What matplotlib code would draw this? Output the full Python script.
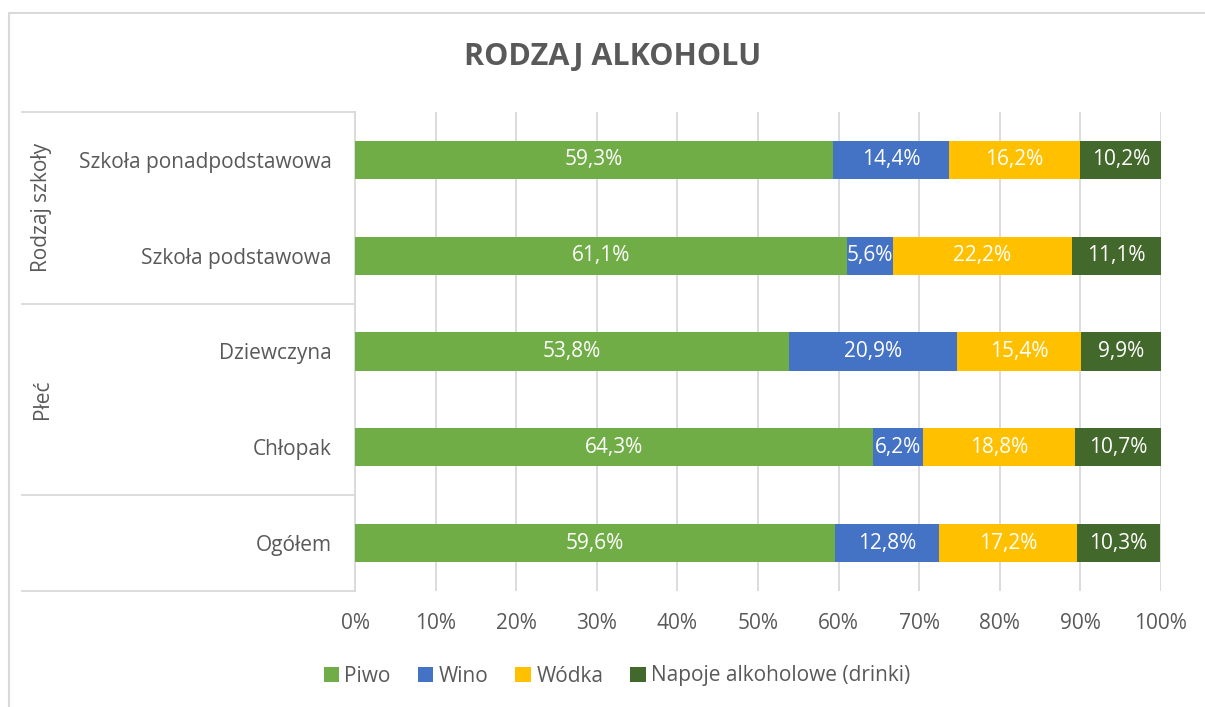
import matplotlib.pyplot as plt
import matplotlib.transforms as mtransforms
from matplotlib.patches import Rectangle
from matplotlib.lines import Line2D

plt.rcParams['font.family'] = ['Open Sans', 'DejaVu Sans']

# kategorie od dołu do góry
kategorie = ['Ogółem', 'Chłopak', 'Dziewczyna', 'Szkoła podstawowa', 'Szkoła ponadpodstawowa']
serie = ['Piwo', 'Wino', 'Wódka', 'Napoje alkoholowe (drinki)']
kolory = ['#70AD47', '#4472C4', '#FFC000', '#43682B']

piwo = [59.6, 64.3, 53.8, 61.1, 59.3]
wino = [12.8, 6.2, 20.9, 5.6, 14.4]
wodka = [17.2, 18.8, 15.4, 22.2, 16.2]
drinki = [10.3, 10.7, 9.9, 11.1, 10.2]

grupy = ['Płeć', 'Rodzaj szkoły']
grupy_zakres = [(0.5, 2.5), (2.5, 4.5)]
xticks = [0, 10, 20, 30, 40, 50, 60, 70, 80, 90, 100]

szary = '#595959'
linia = '#D9D9D9'
fs = 15

fig = plt.figure(figsize=(12.05, 7.07), dpi=100)
ax = fig.add_axes([355 / 1205, 1 - 591 / 707, 806 / 1205, 479 / 707])

y = range(len(kategorie))
lewo = [0] * len(kategorie)
for wartosci, nazwa, kolor in zip([piwo, wino, wodka, drinki], serie, kolory):
    bary = ax.barh(y, wartosci, left=lewo, height=0.4, color=kolor, label=nazwa, zorder=3)
    for b, v in zip(bary, wartosci):
        ax.text(b.get_x() + b.get_width() / 2, b.get_y() + b.get_height() / 2,
                f'{v:.1f}%'.replace('.', ','), ha='center', va='center',
                color='white', fontsize=fs, zorder=4)
    lewo = [l + v for l, v in zip(lewo, wartosci)]

ax.set_xlim(0, 100)
ax.set_ylim(-0.5, 4.5)
ax.set_xticks(xticks)
ax.set_xticklabels([f'{t}%' for t in xticks])
ax.set_yticks(list(y))
ax.set_yticklabels(kategorie)
ax.tick_params(axis='both', length=0, colors=szary, labelsize=fs)
ax.tick_params(axis='y', pad=17)
ax.tick_params(axis='x', pad=16)
ax.grid(axis='x', color=linia, linewidth=1.3, zorder=0)
for s in ['top', 'right', 'bottom']:
    ax.spines[s].set_visible(False)
ax.spines['left'].set_color(linia)
ax.spines['left'].set_linewidth(1.3)

# linie podziału grup na osi kategorii
tr = mtransforms.blended_transform_factory(fig.transFigure, ax.transData)
for yy in [-0.5, 0.5, 2.5, 4.5]:
    ax.add_line(Line2D([22 / 1205, 355 / 1205], [yy, yy], transform=tr,
                       color=linia, linewidth=1.3, clip_on=False))
for nazwa, (a, b) in zip(grupy, grupy_zakres):
    ax.text(42 / 1205, (a + b) / 2, nazwa, transform=tr, rotation=90,
            ha='center', va='center', color=szary, fontsize=fs)

fig.text(613 / 1205, 1 - 57 / 707, 'RODZAJ ALKOHOLU', ha='center', va='center',
         fontsize=22, fontweight='bold', color=szary)

fig.legend(loc='center', bbox_to_anchor=(617 / 1205, 1 - 676 / 707), ncol=4,
           frameon=False, handlelength=0.75, handleheight=0.75, handletextpad=0.25,
           columnspacing=1.3, fontsize=fs, labelcolor=szary)

fig.patches.append(Rectangle((9 / 1205, -0.1), 1.2, 1.1 - 13 / 707,
                             transform=fig.transFigure, fill=False,
                             edgecolor=linia, linewidth=1.5))

fig.savefig('out.png', dpi=100)
